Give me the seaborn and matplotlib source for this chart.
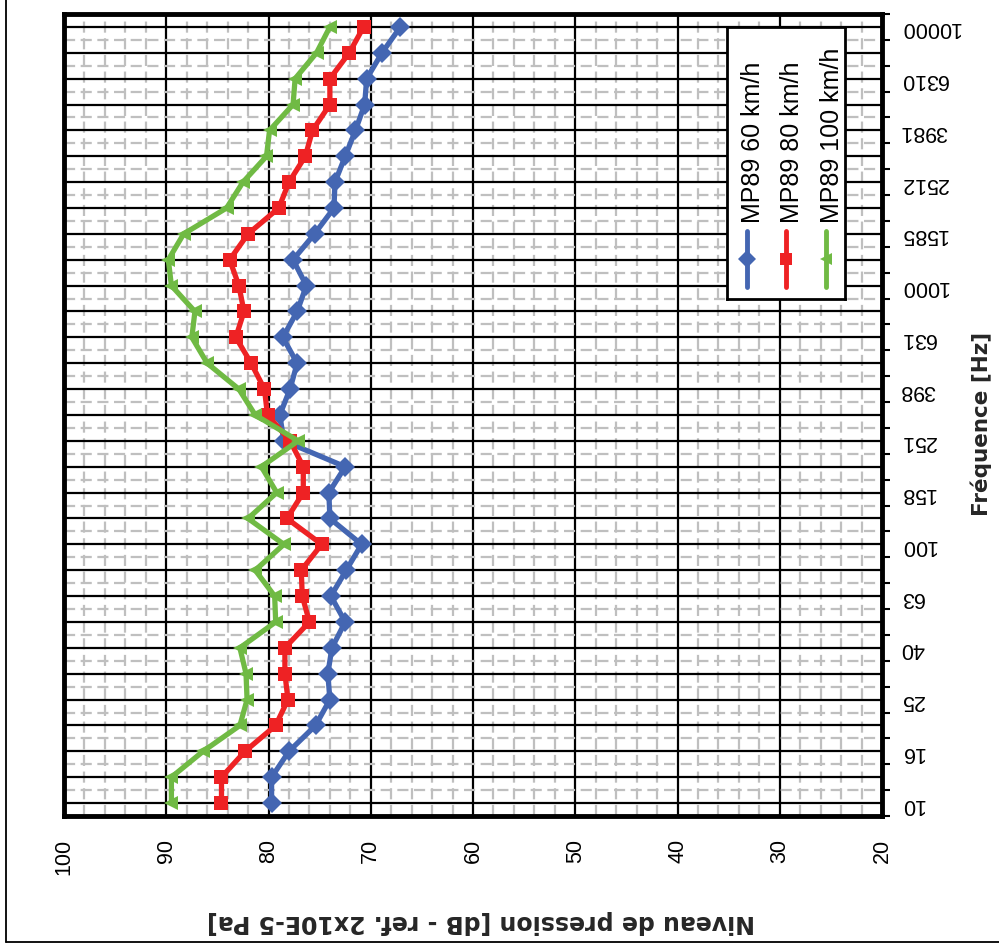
import numpy as np
import pandas as pd
import seaborn as sns
import matplotlib.pyplot as plt
from matplotlib.lines import Line2D
from matplotlib.ticker import FixedLocator, MultipleLocator

# bandes de tiers d'octave (seulement une sur deux est affichée)
frequences = ['10', '12.5', '16', '20', '25', '31.5', '40', '50', '63', '80',
              '100', '125', '158', '200', '251', '316', '398', '501', '631', '794',
              '1000', '1259', '1585', '1995', '2512', '3162', '3981', '5012', '6310',
              '7943', '10000']

niv_60 = [79.7, 79.7, 78.0, 75.4, 74.0, 74.2, 73.8, 72.5, 73.9, 72.4, 70.9,
          74.0, 74.1, 72.5, 78.5, 78.9, 77.9, 77.2, 78.6, 77.2, 76.3,
          77.6, 75.5, 73.6, 73.5, 72.5, 71.5, 70.6, 70.4, 68.9, 67.1]
niv_80 = [84.6, 84.6, 82.3, 79.3, 78.1, 78.4, 78.4, 76.0, 76.7, 76.8, 74.8,
          78.2, 76.6, 76.6, 77.9, 80.1, 80.4, 81.7, 83.2, 82.4, 82.9,
          83.8, 82.0, 79.0, 78.0, 76.4, 75.7, 74.0, 74.0, 72.1, 70.7]
niv_100 = [89.5, 89.5, 86.4, 82.8, 82.1, 82.2, 82.8, 79.3, 79.4, 81.3, 78.5,
           82.0, 79.2, 80.7, 77.1, 81.3, 82.9, 86.0, 87.5, 87.2, 89.5,
           89.8, 88.3, 84.1, 82.5, 80.2, 79.9, 77.6, 77.4, 75.3, 74.0]

series = ['MP89 60 km/h', 'MP89 80 km/h', 'MP89 100 km/h']
couleurs = {'MP89 60 km/h': '#4466B2', 'MP89 80 km/h': '#EE2224', 'MP89 100 km/h': '#70BA44'}
marqueurs = {'MP89 60 km/h': 'D', 'MP89 80 km/h': 's', 'MP89 100 km/h': '<'}

idx = np.arange(len(frequences))
df = pd.concat([
    pd.DataFrame({'idx': idx, 'niveau': v, 'serie': s})
    for s, v in zip(series, [niv_60, niv_80, niv_100])
])

sns.set_style('white')
plt.rcParams['font.family'] = ['Liberation Sans', 'DejaVu Sans']
plt.rcParams['text.color'] = 'black'

fig = plt.figure(figsize=(9.99, 9.53), dpi=100)
ax = fig.add_axes([0.0641, 0.1427, 0.8188, 0.8416])

sns.lineplot(data=df, x='niveau', y='idx', hue='serie', style='serie',
             palette=couleurs, markers=marqueurs, dashes=False, orient='y',
             linewidth=3.8, markersize=10.5, markeredgewidth=0, legend=False, ax=ax)

# axe des niveaux (inversé)
ax.set_xlim(100, 20)
ax.xaxis.set_major_locator(MultipleLocator(10))
ax.xaxis.set_minor_locator(MultipleLocator(2))
ax.tick_params(axis='x', which='major', direction='out', length=8, width=2,
               color='black', labelsize=15.5, labelrotation=90, pad=8, labelcolor='black')
ax.tick_params(axis='x', which='minor', length=0)

# axe des fréquences à droite
ax.set_ylim(-0.5, len(frequences) - 0.5)
ax.yaxis.tick_right()
ax.yaxis.set_major_locator(FixedLocator(idx))
ax.yaxis.set_minor_locator(MultipleLocator(1, offset=0.5))
ax.set_yticklabels([f if i % 2 == 0 else '' for i, f in enumerate(frequences)])
ax.tick_params(axis='y', which='major', length=0, labelsize=15.5,
               labelrotation=180, pad=13, labelcolor='black')
ax.tick_params(axis='y', which='minor', direction='out', length=6, width=1.5,
               color='black', right=True, left=False)
for t in ax.get_yticklabels():
    t.set_va('center')

# grilles
ax.set_axisbelow(True)
ax.grid(which='major', color='black', linewidth=1.6)
ax.grid(which='minor', color='#BFBFBF', linewidth=1.6, linestyle=(0, (5, 2.5)))

for sp in ax.spines.values():
    sp.set_visible(True)
    sp.set_color('black')
    sp.set_linewidth(3.5)

ax.set_xlabel('Niveau de pression [dB - ref. 2x10E-5 Pa]', fontsize=17,
              fontweight='bold', family='DejaVu Sans', rotation=180,
              ha='center', va='center')
ax.xaxis.set_label_coords(0.51, -0.131)
ax.yaxis.set_label_position('right')
ax.set_ylabel('Fréquence [Hz]', fontsize=15.5, fontweight='bold',
              family='DejaVu Sans', rotation=90, ha='center', va='center')
ax.yaxis.set_label_coords(1.121, 0.49)

# légende dessinée à la main (texte vertical)
leg = fig.add_axes([0.7277, 0.6852, 0.1181, 0.2854])
leg.set_xlim(0, 1)
leg.set_ylim(0, 1)
leg.set_xticks([])
leg.set_yticks([])
leg.set_facecolor('white')
for sp in leg.spines.values():
    sp.set_visible(True)
    sp.set_color('black')
    sp.set_linewidth(2)
for x, s in zip([0.17, 0.5, 0.84], series):
    leg.plot([x, x], [0.044, 0.25], color=couleurs[s], linewidth=3.5)
    leg.plot([x], [0.147], marker=marqueurs[s], color=couleurs[s],
             markersize=9, markeredgewidth=0)
    leg.text(x + 0.05, 0.283, s, rotation=90, ha='center', va='bottom',
             fontsize=18, color='black')

# cadre de la figure
fig.add_artist(Line2D([0.006, 0.006], [0.0105, 1.0], transform=fig.transFigure,
                      color='black', linewidth=1.3))
fig.add_artist(Line2D([0.006, 1.0], [0.0105, 0.0105], transform=fig.transFigure,
                      color='black', linewidth=1.3))

fig.savefig('out.png', dpi=100, facecolor='white')
